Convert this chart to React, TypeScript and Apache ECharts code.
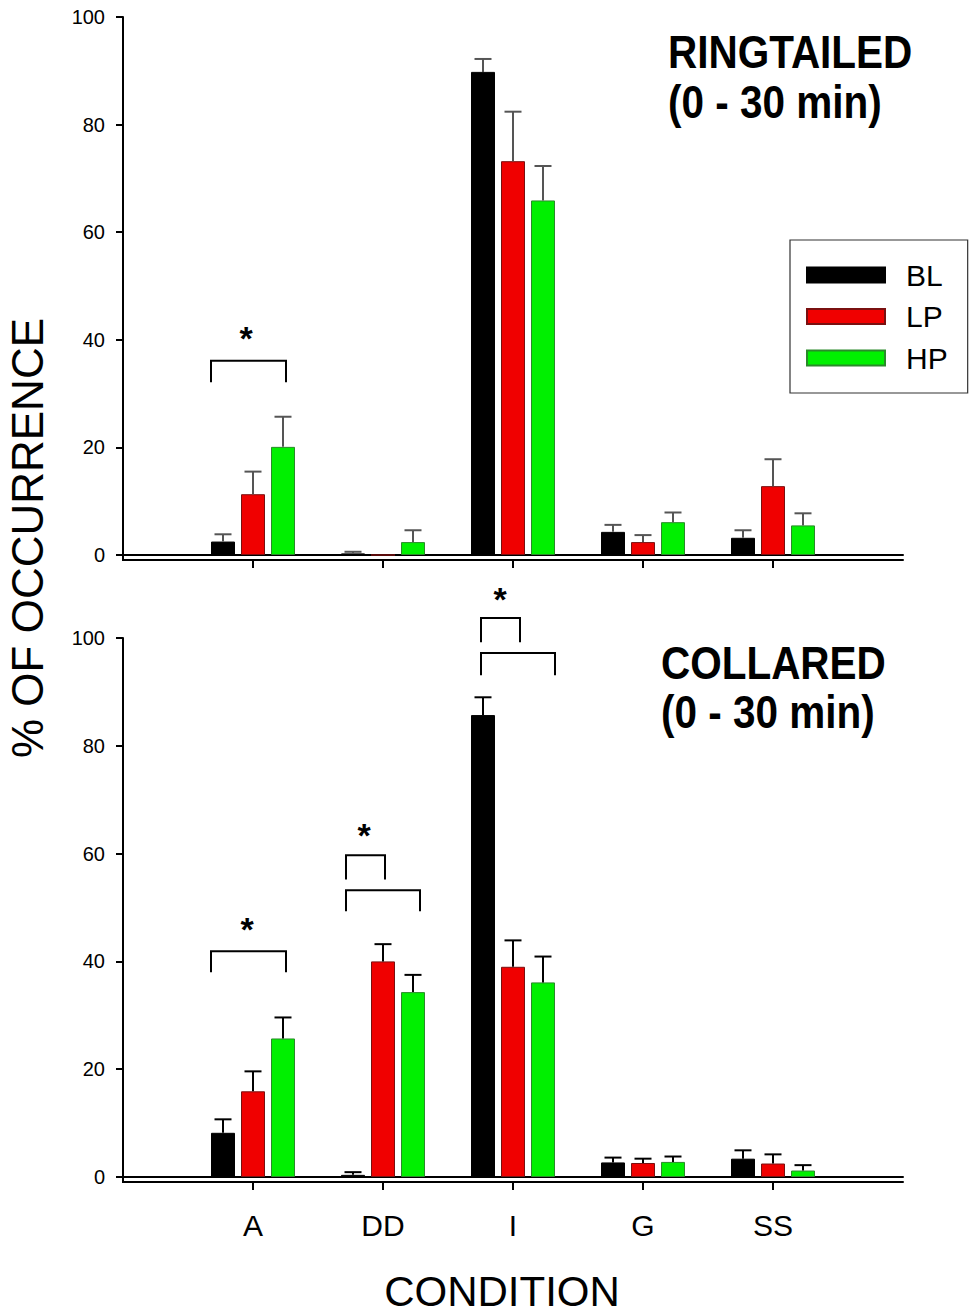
import React, { useEffect, useRef } from "react";
import * as echarts from "echarts";

const FONT = "'Liberation Sans', Arial, Helvetica, sans-serif";

// categories (empty slots at both ends give the outer spacing of the original)
const AXIS_CATS = ["", "A", "DD", "I", "G", "SS", ""];
const CONDITIONS = ["A", "DD", "I", "G", "SS"];
const GROUPS = ["BL", "LP", "HP"];

// RINGTAILED (top panel) means and SEM
const RING_BL = [2.5, 0.3, 89.8, 4.3, 3.2];
const RING_LP = [11.3, 0, 73.2, 2.4, 12.8];
const RING_HP = [20.1, 2.4, 65.9, 6.1, 5.5];
const RING_BL_ERR = [1.35, 0.3, 2.4, 1.3, 1.4];
const RING_LP_ERR = [4.2, 0, 9.2, 1.3, 5.0];
const RING_HP_ERR = [5.6, 2.2, 6.4, 1.8, 2.25];

// COLLARED (bottom panel) means and SEM
const COLL_BL = [8.2, 0.4, 85.7, 2.7, 3.4];
const COLL_LP = [15.9, 40.0, 39.0, 2.6, 2.5];
const COLL_HP = [25.7, 34.3, 36.1, 2.8, 1.2];
const COLL_BL_ERR = [2.5, 0.5, 3.3, 0.9, 1.55];
const COLL_LP_ERR = [3.7, 3.2, 4.9, 0.8, 1.7];
const COLL_HP_ERR = [3.9, 3.2, 4.8, 1.0, 1.0];

// significance brackets (panel, category, levels in data units)
const BRACKETS = [
  { panel: 0, cat: "A", top: 36.1, bottom: 32.1, from: -42, to: 33 },
  { panel: 1, cat: "A", top: 41.9, bottom: 38.0, from: -42, to: 33 },
  { panel: 1, cat: "DD", top: 59.7, bottom: 55.2, from: -37, to: 2 },
  { panel: 1, cat: "DD", top: 53.2, bottom: 49.3, from: -37, to: 37 },
  { panel: 1, cat: "I", top: 103.7, bottom: 99.2, from: -32, to: 7 },
  { panel: 1, cat: "I", top: 97.2, bottom: 93.1, from: -32, to: 42 },
];
const STARS = [
  { panel: 0, cat: "A", level: 40.3, dx: -7 },
  { panel: 1, cat: "A", level: 46.0, dx: -6 },
  { panel: 1, cat: "DD", level: 63.4, dx: -19 },
  { panel: 1, cat: "I", level: 107.2, dx: -13 },
];

const COLORS = ["#000000", "#F00000", "#00F000"];
const BORDERS = ["#000000", "#7A1010", "#2A8A2A"];
const BAR_W = 24;
const BAR_GAP = 0.25;

const PANELS = [
  {
    vals: [RING_BL, RING_LP, RING_HP],
    errs: [RING_BL_ERR, RING_LP_ERR, RING_HP_ERR],
    errColor: "#555555",
  },
  {
    vals: [COLL_BL, COLL_LP, COLL_HP],
    errColor: "#000000",
    errs: [COLL_BL_ERR, COLL_LP_ERR, COLL_HP_ERR],
  },
];

function catIndex(c: string) {
  return AXIS_CATS.indexOf(c);
}

export default function App() {
  const ref = useRef<HTMLDivElement>(null);

  useEffect(() => {
    if (!ref.current) return;
    const chart = echarts.init(ref.current, null, { renderer: "svg" });

    const grids = [
      { left: 123, width: 780, top: 17, height: 538 },
      { left: 123, width: 780, top: 638, height: 539 },
    ];

    const xAxes: any[] = [];
    const yAxes: any[] = [];
    [0, 1].forEach((g) => {
      xAxes.push({
        gridIndex: g,
        type: "category",
        data: AXIS_CATS,
        boundaryGap: false,
        position: "bottom",
        axisLine: { onZero: false, lineStyle: { color: "#000", width: 2 } },
        axisTick: { show: false },
        axisLabel: { show: false },
        splitLine: { show: false },
      });
      xAxes.push({
        gridIndex: g,
        type: "category",
        data: AXIS_CATS,
        boundaryGap: false,
        position: "bottom",
        offset: 5,
        axisLine: { onZero: false, lineStyle: { color: "#000", width: 2 } },
        axisTick: {
          show: true,
          length: 8,
          interval: (i: number) => i > 0 && i < AXIS_CATS.length - 1,
          lineStyle: { color: "#000", width: 2 },
        },
        axisLabel: {
          show: g === 1,
          interval: 0,
          fontSize: 30,
          fontFamily: FONT,
          color: "#000",
          margin: 28,
        },
        splitLine: { show: false },
      });
      yAxes.push({
        gridIndex: g,
        type: "value",
        min: 0,
        max: 100,
        interval: 20,
        axisLine: { show: true, lineStyle: { color: "#000", width: 2 } },
        axisTick: { show: true, length: 7, lineStyle: { color: "#000", width: 2 } },
        axisLabel: { fontSize: 20, fontFamily: FONT, color: "#000", margin: 18 },
        splitLine: { show: false },
      });
    });

    const series: any[] = [];
    PANELS.forEach((p, g) => {
      GROUPS.forEach((name, s) => {
        series.push({
          type: "bar",
          name,
          xAxisIndex: g * 2,
          yAxisIndex: g,
          barWidth: BAR_W,
          barGap: `${BAR_GAP * 100}%`,
          itemStyle: { color: COLORS[s], borderColor: BORDERS[s], borderWidth: 1 },
          emphasis: { disabled: true },
          silent: true,
          z: 2,
          data: p.vals[s].map((v, i) => [catIndex(CONDITIONS[i]), v]),
        });
      });
      // error bars
      const errData: number[][] = [];
      GROUPS.forEach((_, s) => {
        p.vals[s].forEach((v, i) => {
          const e = p.errs[s][i];
          if (e > 0) errData.push([catIndex(CONDITIONS[i]), v, e, s]);
        });
      });
      series.push({
        type: "custom",
        xAxisIndex: g * 2,
        yAxisIndex: g,
        clip: false,
        silent: true,
        z: 3,
        encode: { x: 0, y: 1 },
        data: errData,
        renderItem: (params: any, api: any) => {
          const x = api.value(0);
          const v = api.value(1);
          const e = api.value(2);
          const s = api.value(3);
          const p0 = api.coord([x, v]);
          const p1 = api.coord([x, v + e]);
          const cx = p0[0] + (s - 1) * BAR_W * (1 + BAR_GAP);
          const st = { stroke: p.errColor, lineWidth: 2 };
          return {
            type: "group",
            children: [
              { type: "line", shape: { x1: cx, y1: p0[1], x2: cx, y2: p1[1] }, style: st },
              { type: "line", shape: { x1: cx - 8.5, y1: p1[1], x2: cx + 8.5, y2: p1[1] }, style: st },
            ],
          };
        },
      });
      // brackets
      const br = BRACKETS.filter((b) => b.panel === g);
      series.push({
        type: "custom",
        xAxisIndex: g * 2,
        yAxisIndex: g,
        clip: false,
        silent: true,
        z: 3,
        encode: { x: 0, y: 1 },
        data: br.map((b) => [catIndex(b.cat), b.top, b.bottom, b.from, b.to]),
        renderItem: (params: any, api: any) => {
          const x = api.value(0);
          const pt = api.coord([x, api.value(1)]);
          const pb = api.coord([x, api.value(2)]);
          const xl = pt[0] + api.value(3);
          const xr = pt[0] + api.value(4);
          return {
            type: "polyline",
            shape: { points: [[xl, pb[1]], [xl, pt[1]], [xr, pt[1]], [xr, pb[1]]] },
            style: { stroke: "#000", lineWidth: 2, fill: null },
          };
        },
      });
      // stars
      const stars = STARS.filter((s) => s.panel === g);
      series.push({
        type: "custom",
        xAxisIndex: g * 2,
        yAxisIndex: g,
        clip: false,
        silent: true,
        z: 3,
        encode: { x: 0, y: 1 },
        data: stars.map((s) => [catIndex(s.cat), s.level, s.dx]),
        renderItem: (params: any, api: any) => {
          const pt = api.coord([api.value(0), api.value(1)]);
          return {
            type: "text",
            x: pt[0] + api.value(2),
            y: pt[1],
            style: {
              text: "*",
              fontSize: 34,
              fontWeight: "bold",
              fontFamily: FONT,
              fill: "#000",
              align: "center",
              verticalAlign: "middle",
            },
          };
        },
      });
    });

    const titleStyle = (text: string, size: number, bold: boolean) => ({
      text,
      fontSize: size,
      fontWeight: bold ? "bold" : "normal",
      fontFamily: FONT,
      fill: "#000",
      align: "left",
      verticalAlign: "middle",
    });

    const baseGraphic: any[] = [
      { type: "text", x: 668, y: 52.5, scaleX: 0.88, style: titleStyle("RINGTAILED", 46, true) },
      { type: "text", x: 668, y: 102.5, scaleX: 0.88, style: titleStyle("(0 - 30 min)", 46, true) },
      { type: "text", x: 661, y: 663, scaleX: 0.88, style: titleStyle("COLLARED", 46, true) },
      { type: "text", x: 661, y: 712, scaleX: 0.88, style: titleStyle("(0 - 30 min)", 46, true) },
      {
        type: "text",
        x: 27,
        y: 538,
        rotation: Math.PI / 2,
        style: { ...titleStyle("% OF OCCURRENCE", 44, false), align: "center" },
      },
      {
        type: "text",
        x: 502,
        y: 1291,
        style: { ...titleStyle("CONDITION", 42, false), align: "center" },
      },
    ];

    chart.setOption({
      animation: false,
      backgroundColor: "#ffffff",
      grid: grids,
      xAxis: xAxes,
      yAxis: yAxes,
      legend: {
        data: GROUPS,
        orient: "vertical",
        left: 790,
        top: 240,
        icon: "rect",
        itemWidth: 78,
        itemHeight: 15,
        itemGap: 11.5,
        padding: [20, 20, 20, 16],
        borderColor: "#333",
        borderWidth: 1.2,
        selectedMode: false,
        textStyle: {
          fontSize: 30,
          fontFamily: FONT,
          color: "#000",
          lineHeight: 30,
          padding: [0, 0, 0, 16],
        },
      },
      series,
      graphic: baseGraphic,
    });

    // extend the y-axis lines down to the offset x-axis line
    const ext: any[] = [0, 1].map((g) => {
      const p = chart.convertToPixel({ xAxisIndex: g * 2, yAxisIndex: g }, [0, 0]) as number[];
      return {
        type: "line",
        shape: { x1: p[0], y1: p[1], x2: p[0], y2: p[1] + 6 },
        style: { stroke: "#000", lineWidth: 2 },
      };
    });
    chart.setOption({ graphic: [...baseGraphic, ...ext] });

    return () => chart.dispose();
  }, []);

  return (
    <div
      ref={ref}
      style={{ position: "absolute", left: 0, top: 0, width: 974, height: 1315, background: "#fff" }}
    />
  );
}
